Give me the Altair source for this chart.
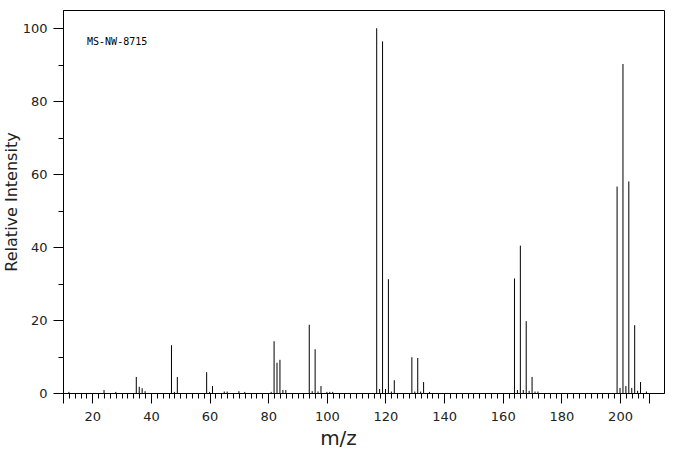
import altair as alt
import pandas as pd

# m/z values and relative intensities
mz = [12, 24, 28, 35, 36, 37, 38, 47, 48, 49, 59, 60, 61, 65, 66, 70, 72,
      81, 82, 83, 84, 85, 86, 94, 95, 96, 97, 98, 100, 101, 102,
      117, 118, 119, 120, 121, 122, 123, 129, 130, 131, 132, 133, 135,
      164, 165, 166, 167, 168, 169, 170, 171, 172,
      199, 200, 201, 202, 203, 204, 205, 206, 207, 209]
intensity = [0.3, 0.8, 0.3, 4.4, 1.7, 1.3, 0.5, 13.1, 0.3, 4.4, 5.7, 0.3, 1.9, 0.4, 0.4, 0.5, 0.3,
             0.3, 14.2, 8.3, 9.1, 0.8, 0.8, 18.7, 0.5, 12.0, 0.4, 1.9, 0.3, 0.3, 0.3,
             100.0, 1.1, 96.4, 1.1, 31.2, 0.4, 3.5, 9.8, 0.4, 9.6, 0.4, 3.0, 0.3,
             31.4, 0.8, 40.4, 0.8, 19.7, 0.6, 4.4, 0.4, 0.4,
             56.6, 1.4, 90.2, 1.9, 58.0, 1.4, 18.6, 0.6, 3.0, 0.4]

x_minor_ticks = list(range(10, 212, 2))
x_major_ticks = [10] + list(range(20, 201, 20)) + [210]
y_minor_ticks = list(range(0, 101, 10))
y_major_ticks = list(range(0, 101, 20))

note_text = ["MS-NW-8715"]
note_x = [18.2]
note_y = [96.3]

df = pd.DataFrame({"mz": mz, "intensity": intensity})
notes = pd.DataFrame({"t": note_text, "x": note_x, "y": note_y})

x_scale = alt.Scale(domain=[10, 215], nice=False, zero=False)
y_scale = alt.Scale(domain=[0, 105], nice=False)

# axes carrying the short ticks and the labels
x_axis_minor = alt.Axis(
    orient="bottom",
    values=x_minor_ticks,
    title="m/z",
    labelExpr="(datum.value % 20 == 0) ? datum.label : ''",
    labelOverlap=False,
    labelFlush=False,
    tickSize=5,
    labelPadding=12,
    titleFontSize=20,
    titleX=275,
    titleY=45,
    titleAlign="center",
    titleBaseline="middle",
)
y_axis_minor = alt.Axis(
    orient="left",
    values=y_minor_ticks,
    title="Relative Intensity",
    labelExpr="(datum.value % 20 == 0) ? datum.label : ''",
    labelOverlap=False,
    labelFlush=False,
    tickSize=5,
    labelPadding=11,
    titlePadding=3,
    titleFontSize=16,
)
# axes carrying the long ticks only
x_axis_major = alt.Axis(
    orient="bottom", values=x_major_ticks, tickSize=10, labels=False,
    domain=False, title="",
)
y_axis_major = alt.Axis(
    orient="left", values=y_major_ticks, tickSize=10, labels=False,
    domain=False, title="",
)

bars = alt.Chart(df).mark_rule(color="black", strokeWidth=1).encode(
    x=alt.X("mz:Q", scale=x_scale, axis=x_axis_minor),
    y=alt.Y("intensity:Q", scale=y_scale, axis=y_axis_minor),
    y2=alt.datum(0),
)

long_ticks = alt.Chart(df).mark_rule(strokeOpacity=0).encode(
    x=alt.X("mz:Q", scale=x_scale, axis=x_axis_major),
    y=alt.Y("intensity:Q", scale=y_scale, axis=y_axis_major),
)

note = alt.Chart(notes).mark_text(
    align="left", baseline="middle", font="DejaVu Sans Mono", fontSize=10, color="black"
).encode(
    x=alt.X("x:Q", scale=x_scale, axis=None),
    y=alt.Y("y:Q", scale=y_scale, axis=None),
    text="t:N",
)

chart = alt.layer(bars, long_ticks, note).resolve_axis(
    x="independent", y="independent"
).properties(
    width=601,
    height=383,
    autosize=alt.AutoSizeParams(type="none"),
    padding={"left": 63, "top": 10, "right": 12, "bottom": 62},
    background="white",
).configure_view(
    stroke="black", strokeWidth=1
).configure_axis(
    grid=False,
    domainColor="black",
    tickColor="black",
    labelColor="#222",
    titleColor="#222",
    labelFont="DejaVu Sans",
    titleFont="DejaVu Sans",
    labelFontSize=13,
    titleFontWeight="normal",
)

chart.save("out.html", embed_options={"renderer": "svg", "actions": False})
